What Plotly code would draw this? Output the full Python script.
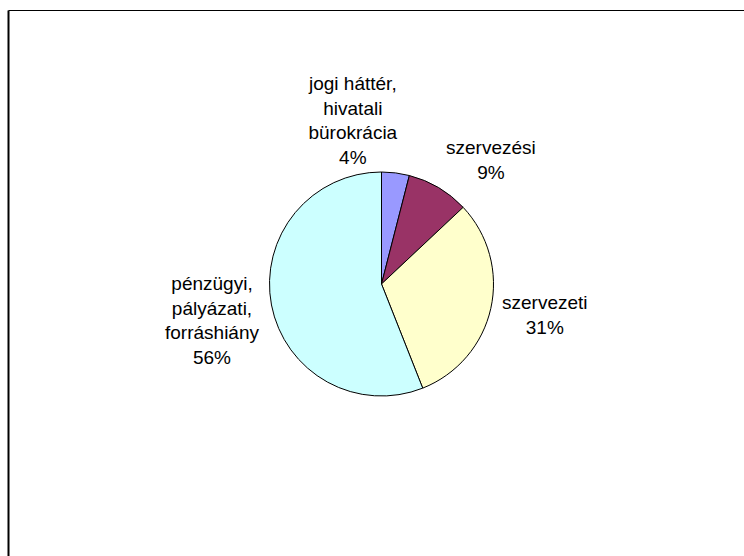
import plotly.graph_objects as go

labels = ["jogi háttér,<br>hivatali<br>bürokrácia", "szervezési", "szervezeti", "pénzügyi,<br>pályázati,<br>forráshiány"]
values = [4, 9, 31, 56]
colors = ["#9999FF", "#993366", "#FFFFCC", "#CCFFFF"]

W, H = 744, 556
cx, cy, r = 381.5, 284, 112

# label block centres (pixels) as placed in the original chart
label_pos = [(353, 120), (491, 160), (545, 315), (212, 320)]

total = sum(values)
annotations = []
for lab, v, (px, py) in zip(labels, values, label_pos):
    annotations.append(dict(
        x=px / W, y=1 - py / H, xref="paper", yref="paper",
        xanchor="center", yanchor="middle", align="center",
        text=f"{lab}<br>{round(100 * v / total)}%",
        showarrow=False,
        font=dict(family="Liberation Sans, Arial, sans-serif", size=19, color="black"),
    ))

fig = go.Figure(go.Pie(
    labels=labels,
    values=values,
    sort=False,
    direction="clockwise",
    rotation=0,
    marker=dict(colors=colors, line=dict(color="black", width=1)),
    textinfo="none",
    domain=dict(x=[(cx - r) / W, (cx + r) / W], y=[(H - cy - r) / H, (H - cy + r) / H]),
    showlegend=False,
    hoverinfo="label+percent",
))

fig.update_layout(
    width=W, height=H,
    margin=dict(l=0, r=0, t=0, b=0),
    paper_bgcolor="white",
    plot_bgcolor="white",
    annotations=annotations,
    shapes=[
        dict(type="line", xref="paper", yref="paper", x0=8.5 / W, x1=1, y0=1 - 10.5 / H, y1=1 - 10.5 / H,
             line=dict(color="black", width=1)),
        dict(type="line", xref="paper", yref="paper", x0=8.5 / W, x1=8.5 / W, y0=0, y1=1 - 10.5 / H,
             line=dict(color="black", width=2)),
    ],
)

fig.write_html("out.html", config={"displayModeBar": False},
               post_script="document.body.style.margin='0';document.body.style.padding='0';")
